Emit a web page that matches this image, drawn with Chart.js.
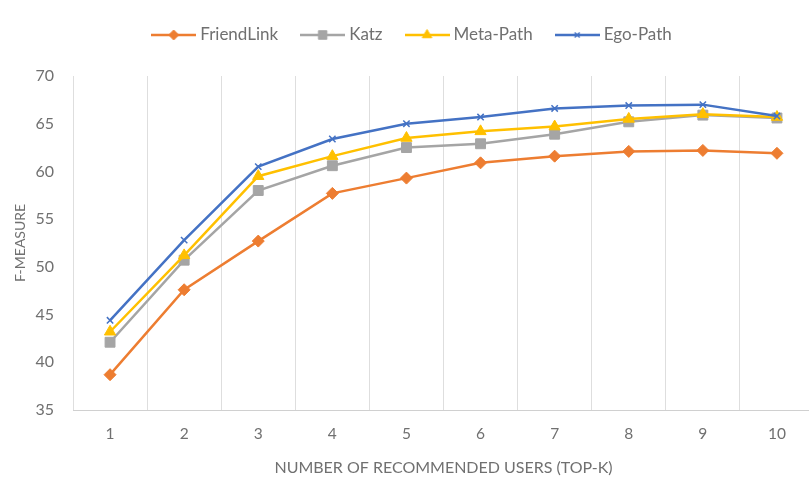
<!DOCTYPE html>
<html>
<head>
<meta charset="utf-8">
<script src="https://cdn.jsdelivr.net/npm/chart.js@4/dist/chart.umd.min.js"></script>
<style>
  html, body { margin: 0; padding: 0; background: #fff; overflow: hidden; }
  #wrap { width: 809px; height: 484px; overflow: hidden; position: relative; }
  canvas { display: block; }
</style>
</head>
<body>
<div id="wrap"><canvas id="chart" width="822" height="484" style="width:822px;height:484px"></canvas></div>
<script>
// Top-K values on the x axis
const topK = ['1', '2', '3', '4', '5', '6', '7', '8', '9', '10'];

// F-measure per method
const friendLink = [38.7, 47.6, 52.7, 57.7, 59.3, 60.9, 61.6, 62.1, 62.2, 61.9];
const katz       = [42.1, 50.7, 58.0, 60.6, 62.5, 62.9, 63.9, 65.2, 65.9, 65.6];
const metaPath   = [43.2, 51.2, 59.5, 61.6, 63.5, 64.2, 64.7, 65.5, 66.0, 65.7];
const egoPath    = [44.4, 52.8, 60.5, 63.4, 65.0, 65.7, 66.6, 66.9, 67.0, 65.8];

// y axis tick values
const yTickValues = [35, 40, 45, 50, 55, 60, 65, 70];

const seriesNames = ['FriendLink', 'Katz', 'Meta-Path', 'Ego-Path'];
const xTitle = 'NUMBER OF RECOMMENDED USERS (TOP-K)';
const yTitle = 'F-MEASURE';

const FONT = 'Lato, "Open Sans", sans-serif';
const TEXT = '#707070';
const GRID = '#dedede';

const styles = [
  { color: '#ED7D31', pointStyle: 'rectRot',  radius: 6,   borderWidth: 1 },
  { color: '#A5A5A5', pointStyle: 'rect',     radius: 7,   borderWidth: 1 },
  { color: '#FFC000', pointStyle: 'triangle', radius: 6.5, borderWidth: 1 },
  { color: '#4472C4', pointStyle: 'crossRot', radius: 4.5, borderWidth: 1.5 }
];

// Legend icons: a short line with the series marker in its middle
function legendIcon(st) {
  const c = document.createElement('canvas');
  c.width = 45; c.height = 16;
  const ctx = c.getContext('2d');
  ctx.strokeStyle = st.color;
  ctx.fillStyle = st.color;
  ctx.lineWidth = 2.5;
  ctx.beginPath();
  ctx.moveTo(0, 8); ctx.lineTo(45, 8);
  ctx.stroke();
  ctx.lineWidth = st.borderWidth;
  Chart.helpers.drawPoint(ctx, { pointStyle: st.pointStyle, radius: st.radius - 1, rotation: 0, borderWidth: st.borderWidth }, 22.5, 8);
  return c;
}
const icons = styles.map(legendIcon);

const allSeries = [friendLink, katz, metaPath, egoPath];
const datasets = allSeries.map((vals, i) => ({
  label: seriesNames[i],
  data: vals,
  borderColor: styles[i].color,
  backgroundColor: styles[i].color,
  pointBackgroundColor: styles[i].color,
  pointBorderColor: styles[i].color,
  pointStyle: styles[i].pointStyle,
  pointRadius: styles[i].radius,
  pointBorderWidth: styles[i].borderWidth,
  borderWidth: 2.5,
  tension: 0,
  fill: false,
  order: allSeries.length - i
}));

// Legend spacing: extra room below it and a small shift to the right
const legendPlacement = {
  id: 'legendPlacement',
  beforeInit(chart) {
    const fit = chart.legend.fit;
    chart.legend.fit = function () {
      fit.call(this);
      this.height += 22.5;
    };
  },
  afterLayout(chart) {
    chart.legend.left += 9.5;
  }
};

new Chart(document.getElementById('chart'), {
  type: 'line',
  data: { labels: topK, datasets },
  plugins: [legendPlacement],
  options: {
    responsive: false,
    animation: false,
    layout: { padding: { top: 0, left: 0, right: 4, bottom: 0 } },
    plugins: {
      tooltip: { enabled: false },
      legend: {
        position: 'top',
        labels: {
          usePointStyle: true,
          pointStyleWidth: 36,
          padding: 26.5,
          color: TEXT,
          font: { family: FONT, size: 17 },
          generateLabels(chart) {
            const items = Chart.defaults.plugins.legend.labels.generateLabels(chart);
            items.sort((a, b) => a.datasetIndex - b.datasetIndex);
            items.forEach(it => { it.pointStyle = icons[it.datasetIndex]; });
            return items;
          }
        }
      }
    },
    scales: {
      x: {
        type: 'category',
        offset: true,
        grid: { display: true, offset: true, color: GRID, lineWidth: 1, drawTicks: false },
        border: { display: true, color: '#d0d0d0', width: 1 },
        ticks: { color: TEXT, font: { family: FONT, size: 15.5 }, padding: 15 },
        title: { display: true, text: xTitle, color: TEXT, font: { family: FONT, size: 16 }, padding: { top: 4, bottom: 6.5 } },
        afterFit(scale) { scale.height = 74; }
      },
      y: {
        min: 35,
        max: 70,
        grid: { display: false, drawTicks: false },
        border: { display: false },
        afterBuildTicks(scale) { scale.ticks = yTickValues.map(v => ({ value: v })); },
        ticks: { color: TEXT, font: { family: FONT, size: 16 }, padding: 19 },
        title: { display: true, text: yTitle, color: TEXT, font: { family: FONT, size: 14 }, padding: { top: 12, bottom: 0 } },
        afterFit(scale) { scale.width = 73; }
      }
    }
  }
});
</script>
</body>
</html>
